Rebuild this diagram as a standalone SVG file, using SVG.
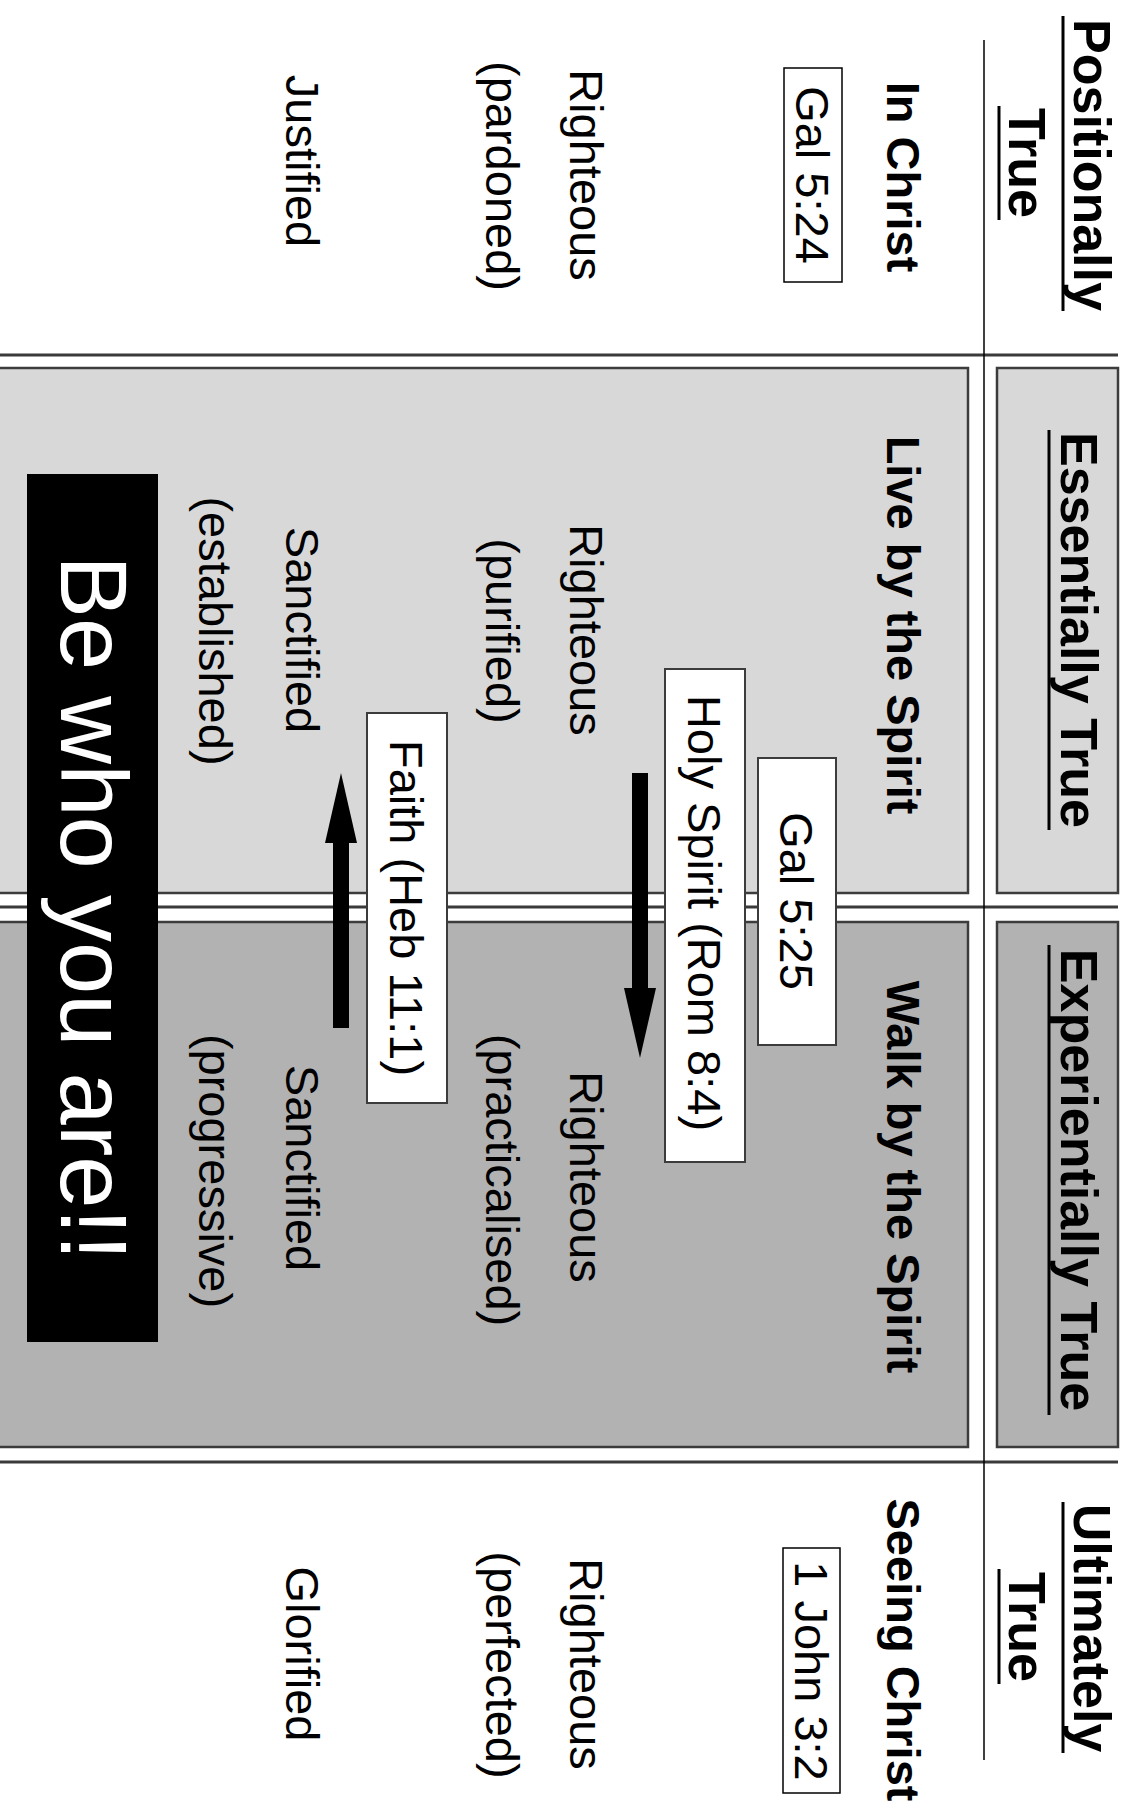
<svg xmlns="http://www.w3.org/2000/svg" width="1127" height="1811" viewBox="0 0 1127 1811">
<style>
text{font-family:"Liberation Sans",Arial,Helvetica,sans-serif;fill:#000;text-anchor:middle}
.hd{font-size:52px;font-weight:bold}
.tt{font-size:47px;font-weight:bold}
.bd{font-size:47px}
.ul{stroke:#000;stroke-width:3}
.rule{stroke:#3a3a3a;stroke-width:3}
.light{fill:#d8d8d8;stroke:#3c3c3c;stroke-width:2.5}
.dark{fill:#b2b2b2;stroke:#3c3c3c;stroke-width:2.5}
.ref{fill:#fff;stroke:#000;stroke-width:1.5}
.lbl{fill:#fff;stroke:#3c3c3c;stroke-width:2}
.big{font-size:94px;fill:#fff}
.arr{stroke:#000;stroke-width:16;fill:none}
</style>
<defs>
<marker id="head" markerUnits="userSpaceOnUse" viewBox="0 0 70 32" refX="0" refY="16" markerWidth="70" markerHeight="32" orient="auto">
<path d="M0,0 L70,16 L0,32 z" fill="#000"/>
</marker>
</defs>
<rect x="0" y="0" width="1127" height="1811" fill="#fff"/>
<g transform="translate(1127,0) rotate(90)">
<g id="panels">
<rect class="light" x="368" y="159" width="525" height="980"/>
<rect class="light" x="368" y="9" width="525" height="121"/>
<rect class="dark" x="922" y="159" width="525" height="980"/>
<rect class="dark" x="922" y="9" width="525" height="121"/>
<line class="rule" x1="355" y1="9" x2="355" y2="1130"/>
<line class="rule" x1="907" y1="9" x2="907" y2="1130"/>
<line class="rule" x1="1462" y1="9" x2="1462" y2="1130"/>
<line x1="40" y1="143" x2="1760" y2="143" stroke="#000" stroke-width="1.5"/>
</g>
<g id="header-positionally">
<text class="hd" x="165" y="53">Positionally</text>
<line class="ul" x1="16" y1="64" x2="311" y2="64"/>
<text class="hd" x="163" y="118">True</text>
<line class="ul" x1="106" y1="128" x2="220" y2="128"/>
</g>
<g id="header-essentially">
<text class="hd" x="630" y="66">Essentially True</text>
<line class="ul" x1="430" y1="78" x2="830" y2="78"/>
</g>
<g id="header-experientially">
<text class="hd" x="1180" y="66">Experientially True</text>
<line class="ul" x1="945" y1="78" x2="1415" y2="78"/>
</g>
<g id="header-ultimately">
<text class="hd" x="1628" y="53">Ultimately</text>
<line class="ul" x1="1502" y1="64" x2="1753" y2="64"/>
<text class="hd" x="1627" y="118">True</text>
<line class="ul" x1="1569" y1="128" x2="1684" y2="128"/>
</g>
<g id="col-positionally">
<text class="tt" x="177" y="240">In Christ</text>
<g id="ref-gal524"><rect class="ref" x="68" y="285" width="214" height="58"/><text class="bd" x="175" y="331">Gal 5:24</text></g>
<text class="bd" x="175" y="557">Righteous</text>
<text class="bd" x="176" y="641">(pardoned)</text>
<text class="bd" x="161" y="841">Justified</text>
</g>
<g id="col-essentially">
<text class="tt" x="625" y="240">Live by the Spirit</text>
<text class="bd" x="630" y="557">Righteous</text>
<text class="bd" x="631" y="641">(purified)</text>
<text class="bd" x="630" y="841">Sanctified</text>
<text class="bd" x="631" y="928">(established)</text>
</g>
<g id="col-experientially">
<text class="tt" x="1177" y="240">Walk by the Spirit</text>
<text class="bd" x="1177" y="557">Righteous</text>
<text class="bd" x="1180" y="641">(practicalised)</text>
<text class="bd" x="1168" y="841">Sanctified</text>
<text class="bd" x="1171" y="928">(progressive)</text>
</g>
<g id="col-ultimately">
<text class="tt" x="1650" y="240">Seeing Christ</text>
<g id="ref-1john32"><rect class="ref" x="1548" y="287" width="245" height="57"/><text class="bd" x="1671" y="332">1 John 3:2</text></g>
<text class="bd" x="1664" y="557">Righteous</text>
<text class="bd" x="1665" y="641">(perfected)</text>
<text class="bd" x="1654" y="841">Glorified</text>
</g>
<g id="connectors">
<line class="arr" x1="773" y1="487" x2="988" y2="487" marker-end="url(#head)"/>
<line class="arr" x1="1028" y1="786" x2="843" y2="786" marker-end="url(#head)"/>
</g>
<g id="label-gal525"><rect class="lbl" x="758" y="291" width="287" height="78"/><text class="bd" x="901" y="347">Gal 5:25</text></g>
<g id="label-holyspirit"><rect class="lbl" x="669" y="382" width="493" height="80"/><text class="bd" x="913" y="439">Holy Spirit (Rom 8:4)</text></g>
<g id="label-faith"><rect class="lbl" x="713" y="680" width="390" height="80"/><text class="bd" x="908" y="737">Faith (Heb 11:1)</text></g>
<g id="banner"><rect x="474" y="969" width="868" height="131" fill="#000"/><text class="big" x="908" y="1066">Be who you are!!</text></g>
</g>
</svg>
